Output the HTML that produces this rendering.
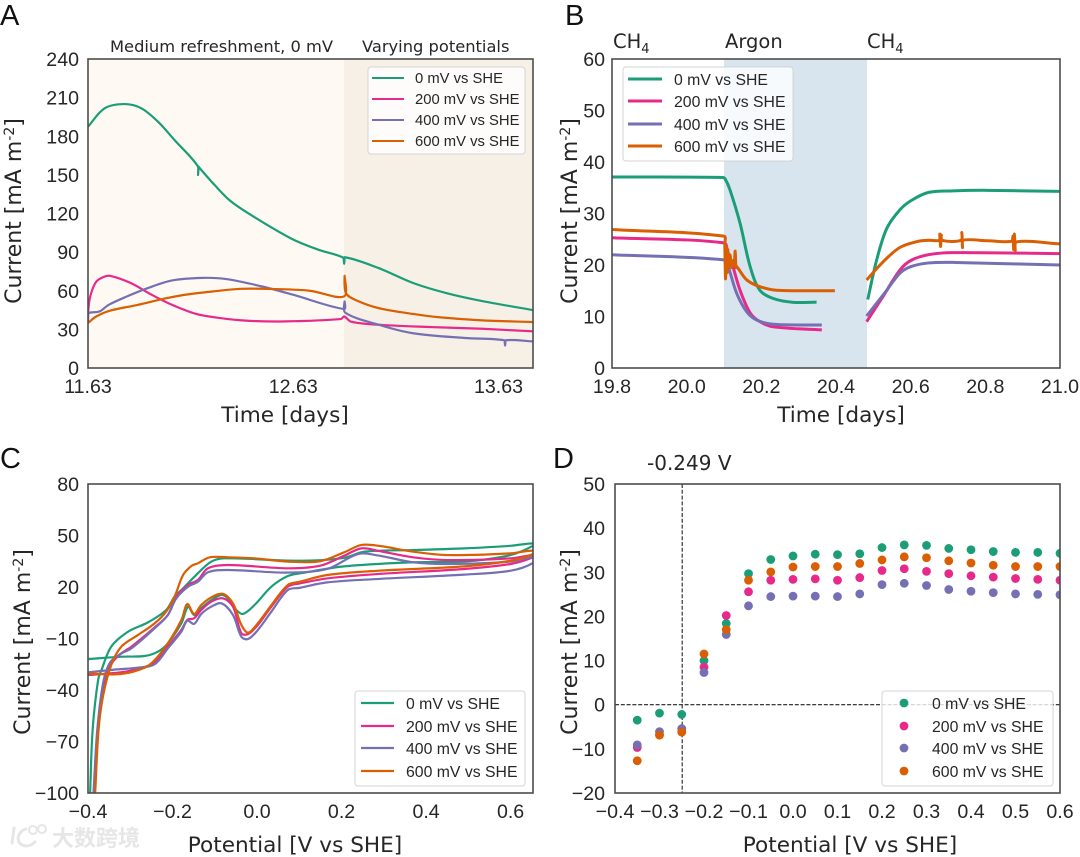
<!DOCTYPE html>
<html lang="en">
<head>
<meta charset="utf-8">
<title>Current and potential panels A to D</title>
<style>
html,body{margin:0;padding:0;background:#fff;}
#figure{display:block;width:1080px;height:857px;filter:blur(0.35px);}
text{fill:#262626;}
.tick{font-family:"Liberation Sans",sans-serif;font-size:19.6px;}
.axis-title{font-family:"DejaVu Sans",sans-serif;font-size:21.6px;}
.axis-title-y{font-family:"DejaVu Sans",sans-serif;font-size:22px;}
.note{font-family:"DejaVu Sans",sans-serif;font-size:16.3px;}
.gas{font-family:"DejaVu Sans",sans-serif;font-size:19.5px;}
.legend-text{font-family:"Liberation Sans",sans-serif;font-size:15.8px;}
.legend-text-small{font-family:"Liberation Sans",sans-serif;font-size:14.8px;}
.panel-letter{font-family:"Liberation Sans",sans-serif;font-size:29px;fill:#111;}
.legend-box{fill:#fff;fill-opacity:.8;stroke:#ccc;stroke-opacity:.8;stroke-width:1;}
.frame{fill:none;stroke:#4d4d4d;stroke-width:1.6;}
</style>
</head>
<body>
<svg id="figure" xmlns="http://www.w3.org/2000/svg" width="1080" height="857" viewBox="0 0 1080 857">
  <defs>
    <clipPath id="clip-a"><rect x="88" y="59" width="445" height="309"/></clipPath>
    <clipPath id="clip-b"><rect x="612" y="59" width="448" height="309"/></clipPath>
    <clipPath id="clip-c"><rect x="88" y="484" width="445" height="309"/></clipPath>
    <clipPath id="clip-d"><rect x="615" y="484" width="445" height="309"/></clipPath>
  </defs>

  <!-- Panel A -->
  <g id="panel-a">
    <rect x="88" y="59" width="256" height="309" fill="#fefaf3"/>
    <rect x="344" y="59" width="189" height="309" fill="#f6f0e6"/>
    <g id="marks-a" clip-path="url(#clip-a)"></g>
    <rect class="frame" x="88" y="59" width="445" height="309"/>
    <g id="ticks-a"></g>
    <text class="panel-letter" x="0" y="25">A</text>
    <text class="note" x="110" y="52">Medium refreshment, 0 mV</text>
    <text class="note" x="362" y="52">Varying potentials</text>
    <text class="axis-title" x="285" y="422" text-anchor="middle">Time [days]</text>
    <text class="axis-title-y" transform="translate(21,211) rotate(-90)" text-anchor="middle">Current [mA m<tspan dy="-7" font-size="14">-2</tspan><tspan dy="7">]</tspan></text>
    <g>
      <rect class="legend-box" x="368" y="67" width="157" height="87" rx="3"/>
      <line x1="372" x2="404" y1="78" y2="78" stroke="#1b9e77" stroke-width="2"/>
      <text class="legend-text-small" x="415" y="83">0 mV vs SHE</text>
      <line x1="372" x2="404" y1="99" y2="99" stroke="#e7298a" stroke-width="2"/>
      <text class="legend-text-small" x="415" y="104">200 mV vs SHE</text>
      <line x1="372" x2="404" y1="120" y2="120" stroke="#7570b3" stroke-width="2"/>
      <text class="legend-text-small" x="415" y="125">400 mV vs SHE</text>
      <line x1="372" x2="404" y1="141" y2="141" stroke="#d95f02" stroke-width="2"/>
      <text class="legend-text-small" x="415" y="146">600 mV vs SHE</text>
    </g>
  </g>

  <!-- Panel B -->
  <g id="panel-b">
    <rect x="724" y="59" width="143" height="309" fill="#d8e5ef"/>
    <g id="marks-b" clip-path="url(#clip-b)"></g>
    <rect class="frame" x="612" y="59" width="448" height="309"/>
    <g id="ticks-b"></g>
    <text class="panel-letter" x="565" y="25">B</text>
    <text class="gas" x="613" y="48">CH<tspan dy="5" font-size="13">4</tspan></text>
    <text class="gas" x="725" y="48">Argon</text>
    <text class="gas" x="867" y="48">CH<tspan dy="5" font-size="13">4</tspan></text>
    <text class="axis-title" x="841" y="422" text-anchor="middle">Time [days]</text>
    <text class="axis-title-y" transform="translate(577,211) rotate(-90)" text-anchor="middle">Current [mA m<tspan dy="-7" font-size="14">-2</tspan><tspan dy="7">]</tspan></text>
    <g>
      <rect class="legend-box" x="623" y="67" width="170" height="94" rx="3"/>
      <line x1="628" x2="662" y1="79" y2="79" stroke="#1b9e77" stroke-width="3"/>
      <text class="legend-text" x="674" y="85">0 mV vs SHE</text>
      <line x1="628" x2="662" y1="101" y2="101" stroke="#e7298a" stroke-width="3"/>
      <text class="legend-text" x="674" y="107">200 mV vs SHE</text>
      <line x1="628" x2="662" y1="124" y2="124" stroke="#7570b3" stroke-width="3"/>
      <text class="legend-text" x="674" y="130">400 mV vs SHE</text>
      <line x1="628" x2="662" y1="146" y2="146" stroke="#d95f02" stroke-width="3"/>
      <text class="legend-text" x="674" y="152">600 mV vs SHE</text>
    </g>
  </g>

  <!-- Panel C -->
  <g id="panel-c">
    <g id="marks-c" clip-path="url(#clip-c)"></g>
    <rect class="frame" x="88" y="484" width="445" height="309"/>
    <g id="ticks-c"></g>
    <text class="panel-letter" x="0" y="468">C</text>
    <text class="axis-title" x="295" y="852" text-anchor="middle">Potential [V vs SHE]</text>
    <text class="axis-title-y" transform="translate(30,642) rotate(-90)" text-anchor="middle">Current [mA m<tspan dy="-7" font-size="14">-2</tspan><tspan dy="7">]</tspan></text>
    <g>
      <rect class="legend-box" x="355" y="691" width="170" height="95" rx="3"/>
      <line x1="361" x2="394" y1="703" y2="703" stroke="#1b9e77" stroke-width="2.2"/>
      <text class="legend-text" x="406" y="709">0 mV vs SHE</text>
      <line x1="361" x2="394" y1="726" y2="726" stroke="#e7298a" stroke-width="2.2"/>
      <text class="legend-text" x="406" y="732">200 mV vs SHE</text>
      <line x1="361" x2="394" y1="748" y2="748" stroke="#7570b3" stroke-width="2.2"/>
      <text class="legend-text" x="406" y="754">400 mV vs SHE</text>
      <line x1="361" x2="394" y1="771" y2="771" stroke="#d95f02" stroke-width="2.2"/>
      <text class="legend-text" x="406" y="777">600 mV vs SHE</text>
    </g>
  </g>

  <!-- Panel D -->
  <g id="panel-d">
    <g id="guides-d" clip-path="url(#clip-d)"></g>
    <g id="marks-d" clip-path="url(#clip-d)"></g>
    <rect class="frame" x="615" y="484" width="445" height="309"/>
    <g id="ticks-d"></g>
    <text class="panel-letter" x="553" y="468">D</text>
    <text class="gas" x="647" y="470" style="font-size:20px">-0.249 V</text>
    <text class="axis-title" x="850" y="852" text-anchor="middle">Potential [V vs SHE]</text>
    <text class="axis-title-y" transform="translate(577,642) rotate(-90)" text-anchor="middle">Current [mA m<tspan dy="-7" font-size="14">-2</tspan><tspan dy="7">]</tspan></text>
    <g>
      <rect class="legend-box" x="882" y="691" width="171" height="95" rx="3"/>
      <circle cx="904" cy="703" r="4.4" fill="#1b9e77"/>
      <text class="legend-text" x="932" y="709">0 mV vs SHE</text>
      <circle cx="904" cy="726" r="4.4" fill="#e7298a"/>
      <text class="legend-text" x="932" y="732">200 mV vs SHE</text>
      <circle cx="904" cy="748" r="4.4" fill="#7570b3"/>
      <text class="legend-text" x="932" y="754">400 mV vs SHE</text>
      <circle cx="904" cy="771" r="4.4" fill="#d95f02"/>
      <text class="legend-text" x="932" y="777">600 mV vs SHE</text>
    </g>
  </g>

  <!-- Watermark -->
  <g opacity=".9">
    <path d="M14 828 L12 843 M26 829 C16 832 15 845 26 846 C30 846 33 844 35 842" fill="none" stroke="#e4e4e4" stroke-width="3" stroke-linecap="round"/>
    <circle cx="33" cy="830" r="4" fill="none" stroke="#e4e4e4" stroke-width="2"/>
    <circle cx="42" cy="829" r="4" fill="none" stroke="#e4e4e4" stroke-width="2"/>
    <text x="52" y="846" style="font-family:'Liberation Sans','Noto Sans CJK SC',sans-serif;font-size:22px;font-weight:700;fill:#e4e4e4">大数跨境</text>
  </g>
</svg>

<script>
const seriesColors = ['#1b9e77', '#e7298a', '#7570b3', '#d95f02'];
const seriesNames = ['0-mv', '200-mv', '400-mv', '600-mv'];

/* Panel A: days after 11.63, current in mA m-2 */
const aTime0 = [0,.081,.179,.26,.341,.422,.534,.536,.538,.54,.617,.698,.828,.997,1.12,1.246,1.248,1.25,1.416,1.584,1.75,1.92,2.168];
const aCurrent0 = [187.4,201.7,205,201.7,191.3,177,157,150,156.5,156,142.1,129.2,115.5,100,92,85.5,81,86,77.6,66,58,52,45];
const aTime200 = [0,.003,.015,.04,.074,.107,.208,.309,.41,.527,.644,.779,.963,1.232,1.248,1.282,1.416,1.668,1.92,2.168];
const aCurrent200 = [36,47.8,58,67,70.6,71.6,66,57,49,42,38.8,36.7,36.2,38,40,36,33.6,31.8,30.5,28.5];
const aTime400 = [0,.003,.057,.1,.19,.29,.41,.56,.678,.846,.997,1.248,1.25,1.253,1.416,1.584,1.836,2.03,2.032,2.034,2.168];
const aCurrent400 = [40,42.7,44,49,55.6,62,68,70,69,63.4,57,45.8,51.7,43,33.6,27,23.3,21.5,17.5,21.5,20.7];
const aTime600 = [0,.003,.04,.107,.242,.376,.477,.61,.745,.913,1.08,1.248,1.25,1.257,1.315,1.416,1.584,1.718,1.92,2.168];
const aCurrent600 = [35,35.4,40,44.5,49,54,57,59.5,61.5,61.3,60,55.6,71.6,58,52,46.5,42,39.3,37,35.7];
const aXTicks = [0, 1, 2];
const aXTickLabels = ['11.63', '12.63', '13.63'];
const aYTicks = [0, 30, 60, 90, 120, 150, 180, 210, 240];

/* Panel B: time in days, current in mA m-2; null marks the sampling gap */
const bTime0 = [19.8,20.098,20.104,20.116,20.143,20.17,20.196,20.232,20.286,20.348,null,20.485,20.509,20.536,20.571,20.601,20.648,20.713,20.806,21];
const bCurrent0 = [37.1,37,36.6,34.6,28.1,19.7,15.1,13.5,12.75,12.8,null,13.3,21,27.1,30.7,32.5,34.1,34.4,34.5,34.3];
const bTime200 = [19.8,20.1,20.11,20.121,20.143,20.17,20.196,20.232,20.362,null,20.482,20.526,20.571,20.601,20.648,20.713,21];
const bCurrent200 = [25.3,24.3,22.5,20.4,15.1,10.7,9,8,7.4,null,9,13.9,19,20.9,22,22.4,22.2];
const bTime400 = [19.8,20.1,20.111,20.134,20.161,20.188,20.232,20.362,null,20.482,20.536,20.571,20.601,20.648,20.713,21];
const bCurrent400 = [22,21,19.7,14.5,10.9,9.3,8.5,8.35,null,10.1,15.1,18.4,19.7,20.4,20.5,20];
const bTime600 = [19.8,20.1,20.102,20.104,20.106,20.108,20.11,20.113,20.116,20.12,20.123,20.127,20.13,20.132,20.134,20.161,20.196,20.241,20.397,null,20.482,20.526,20.571,20.62,20.648,20.676,20.678,20.68,20.682,20.684,20.735,20.737,20.739,20.741,20.806,20.87,20.874,20.876,20.878,20.88,20.884,21];
const bCurrent600 = [26.9,25.6,24,17.3,23.5,18.5,23,19.5,22,19.5,20.8,20,22.7,19.5,19.7,17.1,15.8,15.1,15,null,17.1,20.6,23.4,24.6,24.8,24.8,26,23.6,25.8,24.8,24.8,26.3,23.4,24.8,24.7,24.6,25.6,23,26,22.8,24.5,24.1];
const bXTicks = [19.8, 20, 20.2, 20.4, 20.6, 20.8, 21];
const bXTickLabels = ['19.8', '20.0', '20.2', '20.4', '20.6', '20.8', '21.0'];
const bYTicks = [0, 10, 20, 30, 40, 50, 60];

/* Panel C: cyclic voltammograms, potential in V, current in mA m-2 */
const cPotential0 = [-.395,-.389,-.376,-.368,-.345,-.305,-.258,-.215,-.195,-.175,-.14,-.108,-.077,.073,.141,.206,.255,.369,.49,.6,.653,.653,.6,.49,.369,.206,.108,.073,.034,-.006,-.033,-.049,-.069,-.084,-.108,-.132,-.149,-.163,-.179,-.211,-.234,-.266,-.321,-.4];
const cCurrent0 = [-100,-63,-34,-28.3,-14.7,-6,-.6,6.6,14.4,19.2,28,34.8,36.7,35.4,35.5,37,40.6,41.5,42.5,44,45.4,44,38.6,34.8,34.4,32,28.2,26.4,20.2,9.5,4.3,6.6,13.4,15.4,12.4,7.6,3.7,8.6,-1.1,-12.8,-17.6,-20.2,-20.6,-22];
const cPotential200 = [-.385,-.376,-.364,-.348,-.323,-.297,-.242,-.211,-.191,-.163,-.14,-.116,-.069,.073,.149,.206,.247,.288,.369,.451,.6,.653,.653,.6,.49,.288,.166,.1,.073,.034,.002,-.021,-.037,-.057,-.081,-.108,-.132,-.149,-.165,-.179,-.211,-.242,-.283,-.323,-.4];
const cCurrent200 = [-100,-63,-41,-26,-19,-14.7,-3.5,3.7,14.4,21.2,24.1,30.9,32.8,30.9,32.4,38.2,42.5,41,37.3,35.7,36.7,38.6,37.3,33.4,30.5,27.6,25,22,20.2,8.6,-2.1,-7.4,-7,8.6,13.4,11.5,6.6,1.8,.8,-5,-14.7,-24,-27.8,-29.7,-31.3];
const cPotential400 = [-.387,-.378,-.364,-.348,-.323,-.297,-.242,-.211,-.191,-.163,-.14,-.116,-.069,.073,.166,.239,.288,.369,.451,.6,.653,.653,.6,.49,.288,.166,.1,.073,.034,.002,-.021,-.037,-.057,-.084,-.108,-.132,-.149,-.165,-.179,-.211,-.242,-.283,-.34,-.4];
const cCurrent400 = [-100,-63,-35.5,-24,-19,-15.7,-4,3.7,13.4,20.2,23.1,28.6,29.9,28.4,30.5,39.2,38.3,34.4,33.4,34.8,37.3,34,29.5,27.2,24.7,22.7,19.5,18.3,5.7,-5,-10.3,-9,3.7,10.5,8.6,4.3,-1.5,.4,-6,-15.7,-25,-27,-28.2,-29.7];
const cPotential600 = [-.383,-.375,-.364,-.345,-.321,-.282,-.242,-.215,-.195,-.175,-.155,-.14,-.112,-.069,-.006,.073,.149,.206,.247,.288,.369,.451,.6,.653,.653,.6,.49,.288,.166,.1,.073,.034,.002,-.021,-.037,-.057,-.081,-.108,-.132,-.149,-.165,-.179,-.211,-.242,-.266,-.323,-.4];
const cCurrent600 = [-100,-63,-43,-25.4,-14.7,-8,-1.1,5.7,14.4,27,32.3,33.8,37.3,37.3,36.7,34.8,35,40.2,44.5,44,40.6,38.6,39.6,41.2,39.2,35.3,32,29.5,27,23,21.2,9.5,-1.1,-6.6,-2.1,10.5,16,14,9.5,4.3,10.1,.8,-12.8,-22.5,-27,-30.7,-30.4];
const cXTicks = [-.4, -.2, 0, .2, .4, .6];
const cXTickLabels = ['\u22120.4', '\u22120.2', '0.0', '0.2', '0.4', '0.6'];
const cYTicks = [-100, -70, -40, -10, 20, 50, 80];
const cYTickLabels = ['\u2212100', '\u221270', '\u221240', '\u221210', '20', '50', '80'];

/* Panel D: steady-state current against potential */
const dPotential = [-.35,-.3,-.25,-.2,-.15,-.1,-.05,0,.05,.1,.15,.2,.25,.3,.35,.4,.45,.5,.55,.6];
const dCurrent0 = [-3.5,-1.9,-2.2,10,18.4,29.7,32.9,33.7,34.1,34,34.2,35.6,36.2,36.1,35.4,35.1,34.7,34.5,34.5,34.3];
const dCurrent200 = [-9.7,-6.8,-5.5,8.5,20.2,25.6,28.2,28.4,28.5,28.2,28.8,30.4,30.8,30.2,29.7,29.2,28.9,28.6,28.4,28.2];
const dCurrent400 = [-9.1,-6.1,-5.4,7.3,15.9,22.4,24.5,24.6,24.6,24.5,25.1,27.2,27.5,27,26.1,25.7,25.4,25.1,25,24.9];
const dCurrent600 = [-12.7,-6.9,-6.2,11.5,17,28.2,30.1,31.2,31.3,31.3,32,32.8,33.5,33.3,32.6,32.1,31.6,31.3,31.3,31.3];
const dThresholdPotential = [-0.249];
const dZeroCurrent = [0];
const dXTicks = [-.4, -.3, -.2, -.1, 0, .1, .2, .3, .4, .5, .6];
const dXTickLabels = ['\u22120.4', '\u22120.3', '\u22120.2', '\u22120.1', '0.0', '0.1', '0.2', '0.3', '0.4', '0.5', '0.6'];
const dYTicks = [-20, -10, 0, 10, 20, 30, 40, 50];
const dYTickLabels = ['\u221220', '\u221210', '0', '10', '20', '30', '40', '50'];

const SVG_NS = 'http://www.w3.org/2000/svg';

function scale(d0, d1, r0, r1) {
  return function (v) { return r0 + (v - d0) * (r1 - r0) / (d1 - d0); };
}

function make(tag, parent) {
  const el = document.createElementNS(SVG_NS, tag);
  parent.appendChild(el);
  return el;
}

/* Chord-length Catmull-Rom path, broken at null entries */
function smoothPath(xs, ys, sx, sy) {
  let d = '';
  let run = [];
  function flush() {
    if (run.length < 2) { run = []; return; }
    d += 'M' + run[0][0].toFixed(2) + ' ' + run[0][1].toFixed(2);
    const dist = function (a, b) { return Math.hypot(a[0] - b[0], a[1] - b[1]) || 0.001; };
    const tan = function (i) {
      const p = run[Math.max(i - 1, 0)], n = run[Math.min(i + 1, run.length - 1)];
      const span = (i > 0 ? dist(run[i - 1], run[i]) : 0) + (i < run.length - 1 ? dist(run[i], run[i + 1]) : 0);
      return [(n[0] - p[0]) / span, (n[1] - p[1]) / span];
    };
    for (let i = 0; i < run.length - 1; i++) {
      const len = dist(run[i], run[i + 1]);
      const t0 = tan(i), t1 = tan(i + 1);
      d += 'C' + (run[i][0] + t0[0] * len / 3).toFixed(2) + ' ' + (run[i][1] + t0[1] * len / 3).toFixed(2) +
           ' ' + (run[i + 1][0] - t1[0] * len / 3).toFixed(2) + ' ' + (run[i + 1][1] - t1[1] * len / 3).toFixed(2) +
           ' ' + run[i + 1][0].toFixed(2) + ' ' + run[i + 1][1].toFixed(2);
    }
    run = [];
  }
  for (let i = 0; i < xs.length; i++) {
    if (xs[i] === null || ys[i] === null) { flush(); continue; }
    run.push([sx(xs[i]), sy(ys[i])]);
  }
  flush();
  return d;
}

function drawLine(parent, panel, index, xs, ys, sx, sy, width) {
  const el = make('path', parent);
  
  
  el.setAttribute('d', smoothPath(xs, ys, sx, sy));
  el.setAttribute('fill', 'none');
  el.setAttribute('stroke', seriesColors[index]);
  el.setAttribute('stroke-width', width);
  el.setAttribute('stroke-linejoin', 'round');
  el.setAttribute('stroke-linecap', 'butt');
}

function drawTickLabels(parent, axis, values, labels, position, fixed) {
  values.forEach(function (value, i) {
    const el = make('text', parent);
    
    
    el.setAttribute('class', 'tick');
    if (axis.endsWith('x')) {
      el.setAttribute('x', position(value));
      el.setAttribute('y', fixed);
      el.setAttribute('text-anchor', 'middle');
    } else {
      el.setAttribute('x', fixed);
      el.setAttribute('y', position(value) + 7);
      el.setAttribute('text-anchor', 'end');
    }
    el.textContent = labels[i];
  });
}

/* Panel A */
const ax = scale(0, 2.168, 88, 533);
const ay = scale(0, 240, 368, 59);
const marksA = document.getElementById('marks-a');
const ticksA = document.getElementById('ticks-a');
drawLine(marksA, 'panel-a', 0, aTime0, aCurrent0, ax, ay, 2.2);
drawLine(marksA, 'panel-a', 1, aTime200, aCurrent200, ax, ay, 2.2);
drawLine(marksA, 'panel-a', 2, aTime400, aCurrent400, ax, ay, 2.2);
drawLine(marksA, 'panel-a', 3, aTime600, aCurrent600, ax, ay, 2.2);
drawTickLabels(ticksA, 'panel-a-x', aXTicks, aXTickLabels, ax, 393);
drawTickLabels(ticksA, 'panel-a-y', aYTicks, aYTicks.map(String), ay, 79);

/* Panel B */
const bx = scale(19.8, 21, 612, 1060);
const by = scale(0, 60, 368, 59);
const marksB = document.getElementById('marks-b');
const ticksB = document.getElementById('ticks-b');
drawLine(marksB, 'panel-b', 0, bTime0, bCurrent0, bx, by, 3);
drawLine(marksB, 'panel-b', 1, bTime200, bCurrent200, bx, by, 3);
drawLine(marksB, 'panel-b', 2, bTime400, bCurrent400, bx, by, 3);
drawLine(marksB, 'panel-b', 3, bTime600, bCurrent600, bx, by, 3);
drawTickLabels(ticksB, 'panel-b-x', bXTicks, bXTickLabels, bx, 393);
drawTickLabels(ticksB, 'panel-b-y', bYTicks, bYTicks.map(String), by, 605);

/* Panel C */
const cx = scale(-.4, .653, 88, 533);
const cy = scale(-100, 80, 793, 484);
const marksC = document.getElementById('marks-c');
const ticksC = document.getElementById('ticks-c');
drawLine(marksC, 'panel-c', 0, cPotential0, cCurrent0, cx, cy, 2.2);
drawLine(marksC, 'panel-c', 1, cPotential200, cCurrent200, cx, cy, 2.2);
drawLine(marksC, 'panel-c', 2, cPotential400, cCurrent400, cx, cy, 2.2);
drawLine(marksC, 'panel-c', 3, cPotential600, cCurrent600, cx, cy, 2.2);
drawTickLabels(ticksC, 'panel-c-x', cXTicks, cXTickLabels, cx, 818);
drawTickLabels(ticksC, 'panel-c-y', cYTicks, cYTickLabels, cy, 79);

/* Panel D */
const dx = scale(-.4, .6, 615, 1060);
const dy = scale(-20, 50, 793, 484);
const guidesD = document.getElementById('guides-d');
const marksD = document.getElementById('marks-d');
const ticksD = document.getElementById('ticks-d');

dThresholdPotential.forEach(function (v) {
  const el = make('line', guidesD);
  
  
  el.setAttribute('x1', dx(v));
  el.setAttribute('x2', dx(v));
  el.setAttribute('y1', 484);
  el.setAttribute('y2', 793);
  el.setAttribute('stroke', '#222');
  el.setAttribute('stroke-width', 1.1);
  el.setAttribute('stroke-dasharray', '4 1.8');
});
dZeroCurrent.forEach(function (v) {
  const el = make('line', guidesD);
  
  
  el.setAttribute('x1', 615);
  el.setAttribute('x2', 1060);
  el.setAttribute('y1', dy(v));
  el.setAttribute('y2', dy(v));
  el.setAttribute('stroke', '#222');
  el.setAttribute('stroke-width', 1.1);
  el.setAttribute('stroke-dasharray', '4 1.8');
});

[dCurrent0, dCurrent200, dCurrent400, dCurrent600].forEach(function (values, s) {
  values.forEach(function (value, i) {
    const el = make('circle', marksD);
    
    
    el.setAttribute('cx', dx(dPotential[i]));
    el.setAttribute('cy', dy(value));
    el.setAttribute('r', 4.4);
    el.setAttribute('fill', seriesColors[s]);
  });
});
drawTickLabels(ticksD, 'panel-d-x', dXTicks, dXTickLabels, dx, 818);
drawTickLabels(ticksD, 'panel-d-y', dYTicks, dYTickLabels, dy, 605);
</script>
</body>
</html>
